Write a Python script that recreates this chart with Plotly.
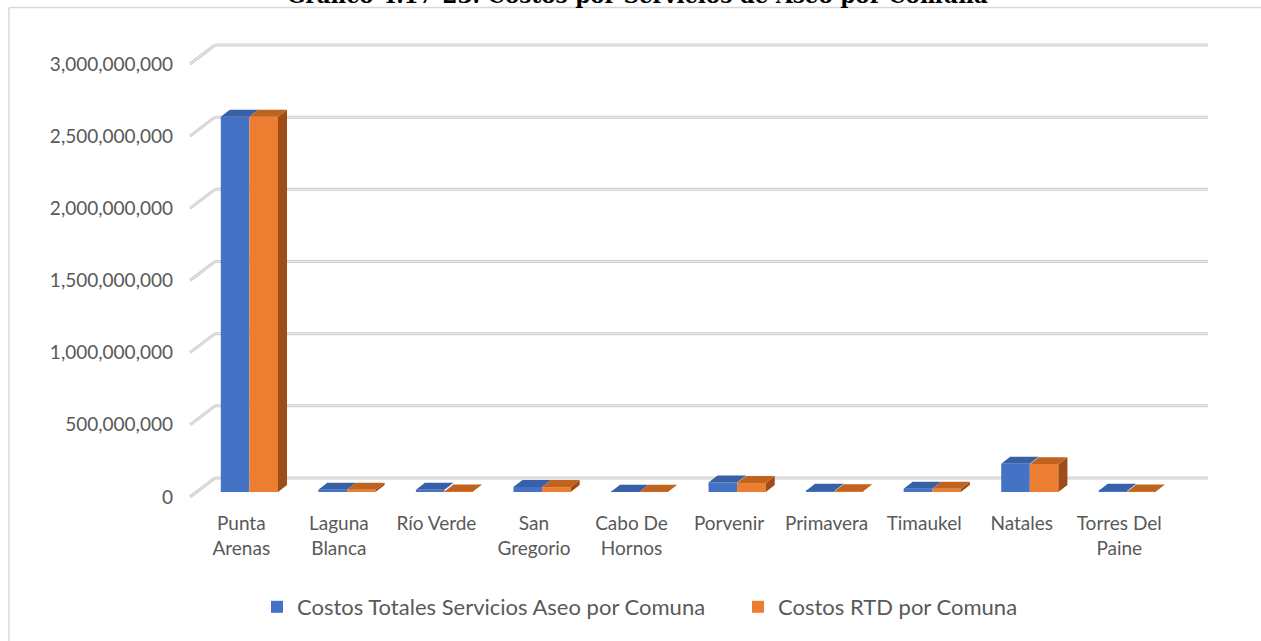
import plotly.graph_objects as go

# ---------------- data ----------------
categories = ["Punta<br>Arenas", "Laguna<br>Blanca", "Río Verde", "San<br>Gregorio", "Cabo De<br>Hornos",
              "Porvenir", "Primavera", "Timaukel", "Natales", "Torres Del<br>Paine"]
series_names = ["Costos Totales Servicios Aseo por Comuna", "Costos RTD por Comuna"]
costos_totales = [2600000000, 16000000, 15000000, 35000000, 2000000, 66000000, 8000000, 23000000, 195000000, 8000000]
costos_rtd = [2600000000, 15000000, 4000000, 34000000, 1500000, 62000000, 5000000, 22000000, 193000000, 4000000]
tick_values = [0, 500000000, 1000000000, 1500000000, 2000000000, 2500000000, 3000000000]
title_text = "Gráfico 4.17-23: Costos por Servicios de Aseo por Comuna"

# ---------------- geometry (pixel-based styling) ----------------
W, H = 1261, 641
m_l, m_r, m_t, m_b = 186, 49, 40, 141
px_per_cat = 97.55
cat0_px = 241.3
px_per_val = 144.33 / 1e9
zero_px = 497

x_range = [(m_l - cat0_px) / px_per_cat, (W - m_r - cat0_px) / px_per_cat]
y_range = [-(H - m_b - zero_px) / px_per_val, (zero_px - m_t) / px_per_val]

wall_dx = 25 / px_per_cat
wall_dy = 19 / px_per_val
x_front_left = (190 - cat0_px) / px_per_cat
x_back_right = (1208 - cat0_px) / px_per_cat

bar_base = 5 / px_per_val
bar_w = 28.6 / px_per_cat
bar_offsets = [-20.5 / px_per_cat, 8.1 / px_per_cat]
depth_dx = 9 / px_per_cat
depth_dy = 7 / px_per_val

front_colors = ["#4472C4", "#ED7D31"]
top_colors = ["#3760A6", "#C0631F"]
side_colors = ["#2F5290", "#9E4C18"]

fig = go.Figure()

xs = list(range(len(categories)))
all_series = [costos_totales, costos_rtd]

for si, vals in enumerate(all_series):
    fig.add_trace(go.Bar(
        x=xs, y=vals, base=bar_base, offset=bar_offsets[si], width=bar_w,
        marker=dict(color=front_colors[si], line=dict(width=0)),
        name=series_names[si], showlegend=True,
    ))

for si, vals in enumerate(all_series):
    tx, ty, sx, sy = [], [], [], []
    for i, v in enumerate(vals):
        xl = i + bar_offsets[si]
        xr = xl + bar_w
        top = bar_base + v
        tx += [xl, xr, xr + depth_dx, xl + depth_dx, xl, None]
        ty += [top, top, top + depth_dy, top + depth_dy, top, None]
        sx += [xr, xr + depth_dx, xr + depth_dx, xr, xr, None]
        sy += [bar_base, bar_base + depth_dy, top + depth_dy, top, bar_base, None]
    if si == 1:
        fig.add_trace(go.Scatter(x=sx, y=sy, mode="lines", fill="toself", fillcolor=side_colors[si],
                                 line=dict(width=0), hoverinfo="skip", showlegend=False))
    fig.add_trace(go.Scatter(x=tx, y=ty, mode="lines", fill="toself", fillcolor=top_colors[si],
                             line=dict(width=0), hoverinfo="skip", showlegend=False))

# back-wall gridlines with perspective ticks
shapes = []
for tv in tick_values:
    for col, wd in (("#CDCDCD", 3), ("#EDEDED", 1)):
        shapes.append(dict(type="line", xref="x", yref="y", x0=x_front_left, y0=tv,
                           x1=x_front_left + wall_dx, y1=tv + wall_dy,
                           line=dict(color=col, width=wd), layer="below"))
        shapes.append(dict(type="line", xref="x", yref="y", x0=x_front_left + wall_dx, y0=tv + wall_dy,
                           x1=x_back_right, y1=tv + wall_dy,
                           line=dict(color=col, width=wd), layer="below"))

plot_w = W - m_l - m_r
plot_h = H - m_t - m_b

# chart border (top and left)
shapes.append(dict(type="line", xref="paper", yref="paper",
                   x0=(9 - m_l) / plot_w, x1=(W - m_l) / plot_w,
                   y0=1 + (m_t - 7.5) / plot_h, y1=1 + (m_t - 7.5) / plot_h,
                   line=dict(color="#D9D9D9", width=1.5)))
shapes.append(dict(type="line", xref="paper", yref="paper",
                   x0=(9 - m_l) / plot_w, x1=(9 - m_l) / plot_w,
                   y0=1 + (m_t - 7.5) / plot_h, y1=-(m_b + 5) / plot_h,
                   line=dict(color="#D9D9D9", width=1.5)))

fig.add_annotation(text="<b>" + title_text + "</b>", xref="paper", yref="paper",
                   x=(637 - m_l) / plot_w, y=1 + (m_t + 5) / plot_h, xanchor="center", yanchor="middle",
                   showarrow=False, font=dict(family="DejaVu Serif", size=21.5, color="#000000"))

fig.update_layout(
    width=W, height=H,
    margin=dict(l=m_l, r=m_r, t=m_t, b=m_b, pad=0),
    paper_bgcolor="white", plot_bgcolor="rgba(0,0,0,0)",
    barmode="overlay",
    shapes=shapes,
    font=dict(family="Lato", size=19, color="#595959"),
    xaxis=dict(range=x_range, tickvals=xs, ticktext=categories, showgrid=False, zeroline=False,
               showline=False, ticks="", ticklabelstandoff=10, tickangle=0,
               tickfont=dict(family="Lato", size=19, color="#595959")),
    yaxis=dict(range=y_range, tickvals=tick_values, tickformat=",d", showgrid=False, zeroline=False,
               showline=False, ticks="", ticklabelstandoff=12,
               tickfont=dict(family="Lato", size=19, color="#595959")),
    legend=dict(orientation="h", x=(738 - m_l) / plot_w, xanchor="center",
                y=-(607 - (H - m_b)) / plot_h, yanchor="middle",
                font=dict(family="Lato", size=22, color="#595959"),
                itemwidth=30, entrywidth=436, bgcolor="rgba(0,0,0,0)"),
    showlegend=True,
)

fig.write_html("out.html", config={"displayModeBar": False},
               post_script="document.body.style.margin='0';")
